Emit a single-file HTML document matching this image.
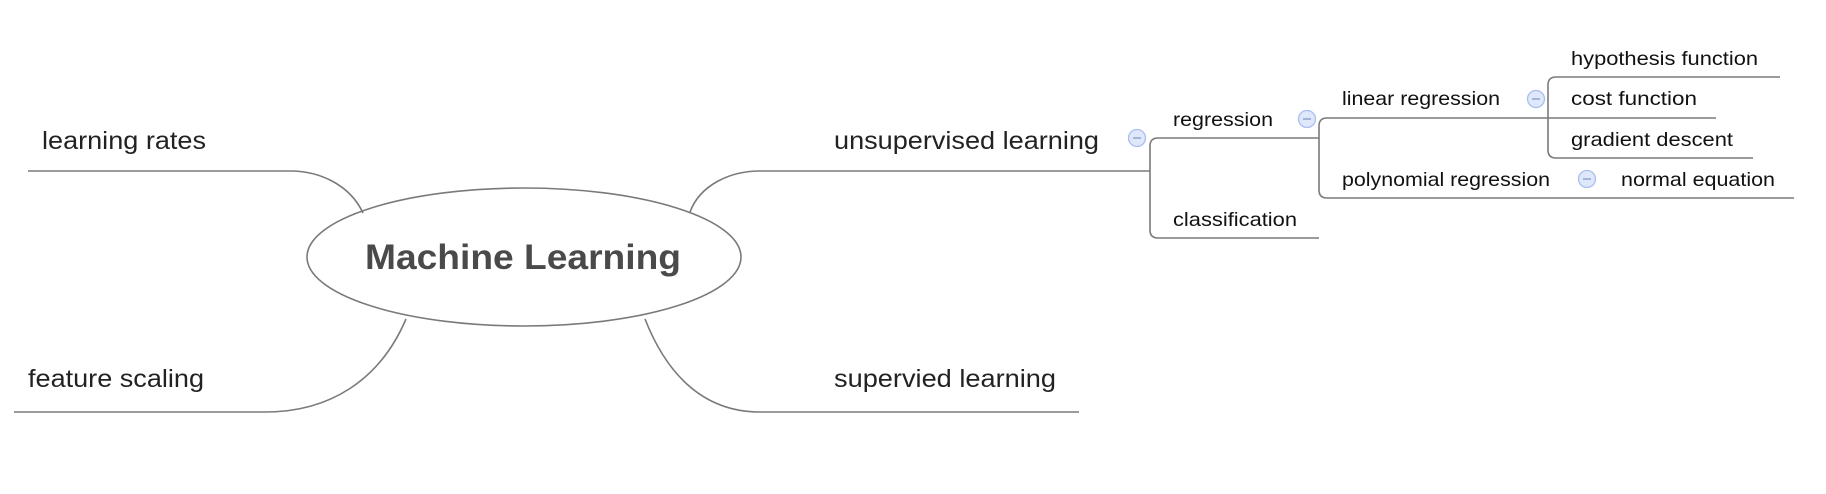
<!DOCTYPE html>
<html><head><style>html,body{margin:0;padding:0;background:#fff;}svg{display:block;}</style></head>
<body>
<svg width="1826" height="494" viewBox="0 0 1826 494" xmlns="http://www.w3.org/2000/svg" font-family="Liberation Sans, sans-serif">
<g fill="none" stroke="#7a7a7a" stroke-width="1.6">
<ellipse cx="524" cy="257" rx="217" ry="69"/>
<path d="M28 171 H290 C320 171 350 185 363 213"/>
<path d="M14 412 H265 C330 412 380 380 406 319"/>
<path d="M1150 171 H760 C730 171 700 185 690 212"/>
<path d="M1079 412 H760 C700 412 665 370 645 319"/>
<path d="M1150 171 V146 Q1150 138 1158 138 H1319"/>
<path d="M1150 171 V230 Q1150 238 1158 238 H1319"/>
<path d="M1319 138 V126 Q1319 118 1327 118 H1548"/>
<path d="M1319 138 V190 Q1319 198 1327 198 H1794"/>
<path d="M1548 118 V85 Q1548 77 1556 77 H1780"/>
<path d="M1548 118 H1716"/>
<path d="M1548 118 V150 Q1548 158 1556 158 H1753"/>
</g>
<g fill="#dfe8fb" stroke="#a9bff0" stroke-width="1.3">
<circle cx="1137" cy="138" r="8.5"/>
<circle cx="1307" cy="119" r="8.5"/>
<circle cx="1536" cy="99" r="8.5"/>
<circle cx="1587" cy="179" r="8.5"/>
</g>
<g stroke="#7f94c8" stroke-width="1.3">
<path d="M1133 138h8M1303 119h8M1532 99h8M1583 179h8"/>
</g>
<text x="365" y="269" font-size="35" font-weight="bold" fill="#4a4a4a" textLength="316" lengthAdjust="spacingAndGlyphs">Machine Learning</text>
<g font-size="25" fill="#222">
<text x="42" y="149" textLength="164" lengthAdjust="spacingAndGlyphs">learning rates</text>
<text x="28" y="387" textLength="176" lengthAdjust="spacingAndGlyphs">feature scaling</text>
<text x="834" y="149" textLength="265" lengthAdjust="spacingAndGlyphs">unsupervised learning</text>
<text x="834" y="387" textLength="222" lengthAdjust="spacingAndGlyphs">supervied learning</text>
</g>
<g font-size="19.5" fill="#111">
<text x="1173" y="126" textLength="100" lengthAdjust="spacingAndGlyphs">regression</text>
<text x="1173" y="226" textLength="124" lengthAdjust="spacingAndGlyphs">classification</text>
<text x="1342" y="105" textLength="158" lengthAdjust="spacingAndGlyphs">linear regression</text>
<text x="1342" y="186" textLength="208" lengthAdjust="spacingAndGlyphs">polynomial regression</text>
<text x="1621" y="186" textLength="154" lengthAdjust="spacingAndGlyphs">normal equation</text>
<text x="1571" y="65" textLength="187" lengthAdjust="spacingAndGlyphs">hypothesis function</text>
<text x="1571" y="105" textLength="126" lengthAdjust="spacingAndGlyphs">cost function</text>
<text x="1571" y="146" textLength="162" lengthAdjust="spacingAndGlyphs">gradient descent</text>
</g>
</svg>
</body></html>
